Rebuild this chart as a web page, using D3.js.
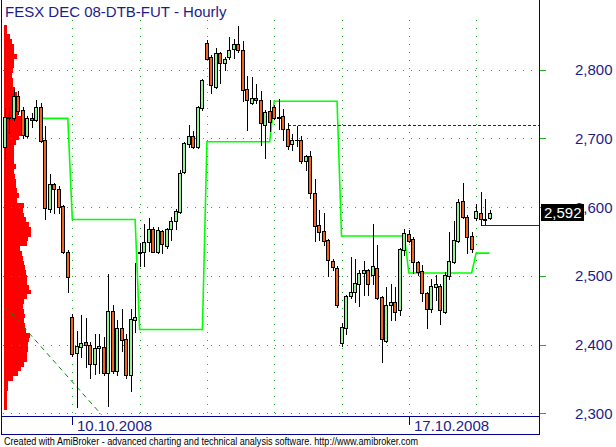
<!DOCTYPE html>
<html><head><meta charset="utf-8">
<script src="https://cdn.jsdelivr.net/npm/d3@7"></script>
<style>body{margin:0;background:#fff}svg{display:block}</style>
</head><body><svg id="c" width="616" height="447"></svg>
<script>
const title = "FESX DEC 08-DTB-FUT - Hourly";
const footer = "Created with AmiBroker - advanced charting and technical analysis software. http://www.amibroker.com";
const opens = [2687,2731,2729,2761,2741,2704,2729,2727,2745,2697,2597,2633,2626,2601,2535,
2440,2387,2397,2403,2400,2371,2395,2397,2358,2449,2361,2424,2408,2355,2436,
2533,2534,2549,2568,2535,2565,2544,2568,2580,2593,2651,2692,2703,2687,2744,
2838,2818,2775,2824,2809,2818,2830,2837,2828,2771,2752,2758,2756,2720,2740,
2745,2731,2732,2713,2691,2698,2698,2667,2674,2620,2574,2565,2552,2522,2512,
2402,2424,2470,2477,2488,2504,2508,2501,2512,2469,2405,2457,2462,2450,2537,
2561,2553,2520,2507,2475,2451,2484,2485,2448,2500,2520,2551,2609,2585,2558,
2584,2592,2582,2584];
const highs = [2744,2745,2772,2769,2745,2732,2737,2755,2752,2718,2648,2635,2630,2603,2537,
2444,2419,2443,2438,2404,2416,2416,2411,2503,2457,2435,2452,2415,2451,2518,
2547,2575,2584,2571,2571,2567,2570,2586,2597,2654,2694,2720,2710,2747,2786,
2843,2821,2831,2826,2818,2848,2844,2864,2842,2790,2789,2779,2769,2741,2755,
2748,2757,2743,2722,2706,2718,2703,2676,2681,2641,2596,2592,2554,2524,2514,
2432,2472,2527,2524,2509,2522,2510,2576,2545,2471,2483,2488,2483,2541,2568,
2566,2556,2522,2515,2477,2496,2501,2488,2506,2564,2579,2612,2635,2588,2564,
2604,2622,2612,2596];
const lows = [2672,2707,2727,2735,2700,2702,2717,2725,2694,2583,2593,2592,2592,2533,2476,
2383,2309,2382,2368,2352,2357,2358,2355,2310,2358,2356,2390,2351,2333,2418,
2514,2514,2536,2534,2533,2533,2541,2552,2568,2591,2650,2687,2686,2686,2741,
2815,2766,2773,2781,2799,2816,2817,2825,2754,2712,2750,2752,2690,2672,2710,
2728,2713,2698,2684,2683,2689,2664,2654,2613,2550,2552,2545,2499,2508,2455,
2398,2415,2468,2462,2456,2472,2472,2488,2466,2374,2403,2436,2436,2443,2530,
2549,2504,2501,2463,2424,2448,2465,2430,2446,2495,2518,2549,2584,2533,2535,
2581,2574,2576,2582];
const closes = [2731,2729,2761,2739,2705,2730,2727,2745,2696,2598,2634,2626,2600,2535,2498,
2386,2398,2402,2399,2371,2395,2398,2358,2449,2362,2424,2406,2355,2437,2440,
2534,2549,2568,2535,2567,2546,2568,2580,2594,2650,2693,2703,2687,2745,2785,
2816,2778,2824,2809,2816,2828,2837,2828,2770,2756,2758,2755,2722,2738,2724,
2730,2730,2713,2689,2698,2697,2667,2674,2620,2573,2564,2551,2523,2513,2457,
2425,2470,2477,2489,2504,2508,2488,2514,2468,2408,2457,2462,2448,2539,2562,
2551,2520,2506,2475,2451,2485,2488,2450,2501,2522,2552,2607,2586,2556,2539,
2594,2582,2581,2592];
const barsPerDay = 15;
const dateLabels = ["10.10.2008", "17.10.2008"];
const dateLabelBars = [15, 90];
const dayStartBars = [15, 30, 45, 60, 75, 90, 105];
const yTicks = [2300, 2400, 2500, 2600, 2700, 2800];
const yTickLabels = ["2,300", "2,400", "2,500", "2,600", "2,700", "2,800"];
const dayLevels = [2729, 2582, 2422, 2695, 2754, 2558, 2504, 2533];
const levelFirstBar = 8;
const resistanceLevel = 2719, resistanceStartBar = 63;
const supportLevel = 2574, supportStartBar = 106;
const trendBars = [0, 21.5];
const trendPrices = [2456, 2298];
const vapTop = 2865, vapStep = 7;
const vapVolume = [3,3,6,8,10,10,13,10,10,9, 8,9,9,11,13,11,9,12,14,18,
20,18,17,15,12,10,10,10,10,12, 10,11,12,12,13,15,13,20,19,20,
22,25,27,27,24,23,16,18,19,20, 21,22,23,23,25,27,23,20,19,20,
21,20,21,22,26,25,24,24,23,23, 20,17,14,9,4,4,3,3,3,3];
const lastValueLabel = "2,592";

const svg = d3.select("#c");
const FONT = "'Liberation Sans', Arial, sans-serif";
const NAVY = "#1c1c8a", FRAME = "#00008c", GRID = "#22b022";
const n = closes.length;
const bars = d3.range(n).map(i => ({i, o: opens[i], h: highs[i], l: lows[i], c: closes[i]}));

const x = d3.scaleLinear().domain([0, 108]).range([5, 489.6]);
const y = d3.scaleLinear().domain([2300, 2800]).range([413.3, 69.55]);
const vx = d3.scaleLinear().domain([0, 27]).range([0, 27]);
const px = v => Math.round(v) + 0.5;

svg.append("defs").append("clipPath").attr("id", "plot")
  .append("rect").attr("x", 2).attr("y", 0).attr("width", 537).attr("height", 416);
const plot = svg.append("g").attr("clip-path", "url(#plot)");

// volume-at-price profile
plot.append("g").selectAll("rect").data(vapVolume).join("rect")
  .attr("x", 4)
  .attr("y", (v, j) => Math.round(y(vapTop - j * vapStep)))
  .attr("height", (v, j) => Math.round(y(vapTop - (j + 1) * vapStep)) - Math.round(y(vapTop - j * vapStep)))
  .attr("width", v => Math.round(vx(v)))
  .attr("fill", "#ff0000").attr("shape-rendering", "crispEdges");

// grid
const grid = plot.append("g").attr("stroke", GRID).attr("stroke-dasharray", "1,7").attr("shape-rendering", "crispEdges");
grid.selectAll("line.h").data(yTicks).join("line").attr("class", "h")
  .attr("x1", 3).attr("x2", 539).attr("y1", d => px(y(d))).attr("y2", d => px(y(d)));
grid.selectAll("line.v").data(dayStartBars).join("line").attr("class", "v")
  .attr("x1", d => px(x(d))).attr("x2", d => px(x(d))).attr("y1", 20).attr("y2", 416);

// trend line
plot.append("path")
  .attr("d", d3.line()([[x(trendBars[0]), y(trendPrices[0])], [x(trendBars[1]), y(trendPrices[1])]]))
  .attr("stroke", "#0a8a0a").attr("stroke-width", 1).attr("stroke-dasharray", "5,4").attr("fill", "none");

// daily level step line
const levelPts = bars.filter(b => b.i >= levelFirstBar).map(b => [x(b.i), y(dayLevels[Math.floor(b.i / barsPerDay)])]);
plot.append("path").attr("d", d3.line()(levelPts))
  .attr("stroke", "#00ff00").attr("stroke-width", 1.6).attr("fill", "none");

// dark red levels
plot.append("line").attr("x1", x(resistanceStartBar)).attr("x2", 539)
  .attr("y1", px(y(resistanceLevel))).attr("y2", px(y(resistanceLevel)))
  .attr("stroke", "#8b0000").attr("stroke-dasharray", "3,2").attr("shape-rendering", "crispEdges");
plot.append("line").attr("x1", x(supportStartBar)).attr("x2", 539)
  .attr("y1", px(y(supportLevel))).attr("y2", px(y(supportLevel)))
  .attr("stroke", "#8b0000").attr("shape-rendering", "crispEdges");

// candles
const cg = plot.append("g").attr("shape-rendering", "crispEdges");
cg.selectAll("line.w").data(bars).join("line").attr("class", "w")
  .attr("x1", b => px(x(b.i))).attr("x2", b => px(x(b.i)))
  .attr("y1", b => Math.round(y(b.h))).attr("y2", b => Math.round(y(b.l)) + 1)
  .attr("stroke", "#000");
const bodyTop = b => px(y(Math.max(b.o, b.c)));
const bodyBot = b => px(y(Math.min(b.o, b.c)));
cg.selectAll("rect.b").data(bars.filter(b => bodyBot(b) - bodyTop(b) >= 1)).join("rect").attr("class", "b")
  .attr("x", b => Math.round(x(b.i)) - 1.5).attr("width", 3)
  .attr("y", bodyTop).attr("height", b => bodyBot(b) - bodyTop(b))
  .attr("fill", b => b.c >= b.o ? "#98f098" : "#f0641e").attr("stroke", "#000");
cg.selectAll("line.d").data(bars.filter(b => bodyBot(b) - bodyTop(b) < 1)).join("line").attr("class", "d")
  .attr("x1", b => Math.round(x(b.i)) - 2).attr("x2", b => Math.round(x(b.i)) + 2)
  .attr("y1", bodyTop).attr("y2", bodyTop).attr("stroke", "#000");

// title
svg.append("text").attr("x", 5).attr("y", 17).text(title)
  .attr("font-family", FONT).attr("font-size", 15).attr("fill", NAVY);

// frame
const fr = svg.append("g").attr("stroke", FRAME).attr("shape-rendering", "crispEdges");
fr.append("line").attr("x1", 1.5).attr("x2", 1.5).attr("y1", 0).attr("y2", 435);
fr.append("line").attr("x1", 539.5).attr("x2", 539.5).attr("y1", 0).attr("y2", 435);
fr.append("line").attr("x1", 1).attr("x2", 540).attr("y1", 416.5).attr("y2", 416.5);
fr.append("line").attr("x1", 1).attr("x2", 540).attr("y1", 434.5).attr("y2", 434.5);

// right axis
const ra = svg.append("g");
ra.selectAll("line").data(yTicks).join("line")
  .attr("x1", 540).attr("x2", 546).attr("y1", d => px(y(d))).attr("y2", d => px(y(d)))
  .attr("stroke", GRID).attr("shape-rendering", "crispEdges");
ra.selectAll("text").data(yTicks).join("text")
  .attr("x", 575).attr("y", d => y(d) + 5.5).text((d, k) => yTickLabels[k])
  .attr("font-family", FONT).attr("font-size", 15).attr("fill", NAVY);

// last value tag
const lastY = y(closes[n - 1]);
svg.append("rect").attr("x", 541).attr("y", Math.round(lastY - 8.5)).attr("width", 43).attr("height", 17).attr("fill", "#000");
svg.append("text").attr("x", 544).attr("y", lastY + 5.5).text(lastValueLabel)
  .attr("font-family", FONT).attr("font-size", 15).attr("fill", "#fff");

// date axis
const da = svg.append("g");
da.selectAll("line").data(dateLabelBars).join("line")
  .attr("x1", d => px(x(d))).attr("x2", d => px(x(d))).attr("y1", 417).attr("y2", 425)
  .attr("stroke", FRAME).attr("shape-rendering", "crispEdges");
da.selectAll("text").data(dateLabelBars).join("text")
  .attr("x", d => Math.round(x(d)) + 5).attr("y", 431).text((d, k) => dateLabels[k])
  .attr("font-family", FONT).attr("font-size", 15).attr("fill", NAVY);

// footer
svg.append("text").attr("x", 4).attr("y", 445).text(footer)
  .attr("font-family", FONT).attr("font-size", 10).attr("fill", "#000")
  .attr("textLength", 414).attr("lengthAdjust", "spacingAndGlyphs");
</script></body></html>
